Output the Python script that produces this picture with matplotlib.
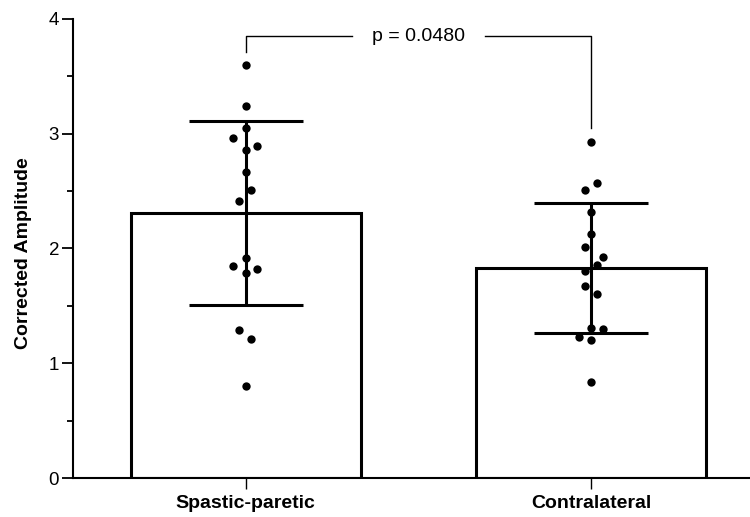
import matplotlib.pyplot as plt
import numpy as np

plt.rcParams['font.family'] = ['Liberation Sans', 'DejaVu Sans']

# data
groups = ['Spastic-paretic', 'Contralateral']
means = [2.31, 1.83]
sds = [0.80, 0.57]
spastic = [3.60, 3.24, 3.05, 2.96, 2.89, 2.86, 2.67, 2.51, 2.41,
           1.92, 1.85, 1.82, 1.79, 1.29, 1.21, 0.80]
spastic_jit = [0, 0, 0, -0.036, 0.034, 0, 0, 0.016, -0.019,
               0, -0.036, 0.034, 0, -0.019, 0.016, 0]
contra = [2.93, 2.57, 2.51, 2.32, 2.13, 2.01, 1.93, 1.86, 1.80,
          1.67, 1.60, 1.31, 1.30, 1.23, 1.20, 0.84]
contra_jit = [0, 0.017, -0.017, 0, 0, -0.017, 0.034, 0.017, -0.017,
              -0.017, 0.017, 0, 0.034, -0.034, 0, 0]
p_text = 'p = 0.0480'

fig = plt.figure(figsize=(7.5, 5.17), dpi=100)
ax = fig.add_axes([0.0973, 0.0754, 0.9027, 0.888])

x = np.arange(len(groups))
ax.bar(x, means, width=0.665, color='white', edgecolor='black', linewidth=2.2, zorder=1)
ax.errorbar(x, means, yerr=sds, fmt='none', ecolor='black', elinewidth=2.2,
            capsize=40.7, capthick=2.2, zorder=2)

for xi, vals, jit in [(0, spastic, spastic_jit), (1, contra, contra_jit)]:
    ax.scatter(xi + np.array(jit), vals, s=36, color='black', zorder=3, linewidths=0)

# significance bracket
ax.plot([0, 0, 0.307], [3.71, 3.85, 3.85], color='black', lw=1.0, clip_on=False)
ax.plot([0.693, 1, 1], [3.85, 3.85, 3.05], color='black', lw=1.0, clip_on=False)
ax.text(0.5, 3.85, p_text, ha='center', va='center', fontsize=14)

ax.set_xlim(-0.5, 1.46)
ax.set_ylim(0, 4)
ax.set_xticks(x)
ax.set_xticklabels(groups, fontsize=14, fontweight='bold')
ax.set_yticks([0, 1, 2, 3, 4])
ax.set_yticks([0.5, 1.5, 2.5, 3.5], minor=True)
ax.tick_params(axis='y', which='major', length=8, width=1.3, labelsize=13.5, pad=2)
ax.tick_params(axis='y', which='minor', length=4, width=1.3)
ax.tick_params(axis='x', length=8, width=1.0, pad=4)
ax.set_ylabel('Corrected Amplitude', fontsize=14, fontweight='bold')
ax.yaxis.set_label_coords(-0.06, 0.49)

ax.spines['top'].set_visible(False)
ax.spines['right'].set_visible(False)
ax.spines['left'].set_linewidth(1.5)
ax.spines['bottom'].set_linewidth(1.5)

plt.savefig('out.png', dpi=100)
